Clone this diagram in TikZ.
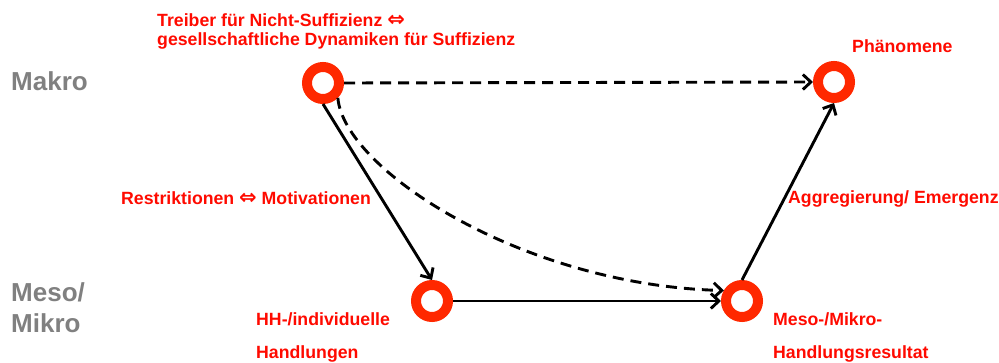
\documentclass[tikz,border=0pt]{standalone}
\usepackage{fontspec}
\setmainfont{Liberation Sans}
\newfontfamily\dejavu{DejaVu Sans}
\usetikzlibrary{arrows.meta}
\definecolor{ringred}{RGB}{255,40,0}
\definecolor{txtred}{RGB}{255,10,0}
\definecolor{lvlgray}{RGB}{128,128,128}
\newcommand{\eqv}{{\dejavu\bfseries\fontsize{21}{21}\selectfont ⇔}}
\begin{document}
\begin{tikzpicture}[x=1pt,y=-1pt,
  ring/.style={circle,draw=ringred,line width=10pt,fill=white,minimum size=32pt,inner sep=0pt,outer sep=5pt},
  lbl/.style={anchor=base west,inner sep=0pt,text=txtred,font=\fontsize{17.7}{19}\selectfont\bfseries},
  lvl/.style={anchor=base west,inner sep=0pt,text=lvlgray,font=\fontsize{26}{32}\selectfont\bfseries,align=left},
  conn/.style={line width=2.9pt,-{Straight Barb[length=8pt,width=15pt]}},
  dconn/.style={conn,dash pattern=on 11pt off 7pt}]
\useasboundingbox (0,0) rectangle (999,363);
% nodes
\node[ring] (A) at (323,83) {};
\node[ring] (P) at (834,82) {};
\node[ring] (H) at (432,301) {};
\node[ring] (M) at (742,301) {};
% level labels
\node[lvl] (mak) at (11,91) {Makro};
\node[lvl] (mes) at (11,302) {Meso/};
\node[lvl] (mik) at (11,333) {Mikro};
% red labels
\node[lbl] (t1) at (157,27) {Treiber für Nicht-Suffizienz \eqv};
\node[lbl] (t2) at (157,46) {gesellschaftliche Dynamiken für Suffizienz};
\node[lbl] (ph) at (852,53) {Phänomene};
\node[lbl] (rm) at (121,205) {Restriktionen \eqv\ Motivationen};
\node[lbl] (ag) at (788,204) {Aggregierung/ Emergenz};
\node[lbl] (hh1) at (256,326) {HH-/individuelle};
\node[lbl] (hh2) at (256,359) {Handlungen};
\node[lbl] (mm1) at (773,326) {Meso-/Mikro-};
\node[lbl] (mm2) at (773,359) {Handlungsresultat};
% connectors
\draw[dconn] (A.east) -- (P.west);
\draw[conn] (A.south) -- (H.north);
\draw[dconn] (A.-45) .. controls +(6,72) and +(-200,-5) .. (M.150);
\draw[conn] (H.east) -- (M.west);
\draw[conn] (M.north) -- (P.south);
\end{tikzpicture}
\end{document}
